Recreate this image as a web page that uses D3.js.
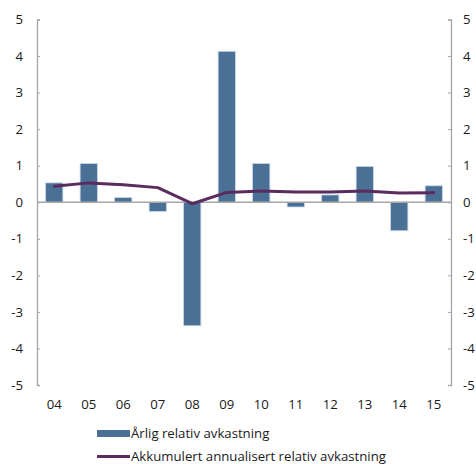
<!DOCTYPE html>
<html>
<head>
<meta charset="utf-8">
<script src="https://cdn.jsdelivr.net/npm/d3@7"></script>
<style>
  html, body { margin: 0; padding: 0; background: #fff; }
  svg { display: block; font-family: "Open Sans", "Noto Sans", sans-serif; }
</style>
</head>
<body>
<svg id="chart" width="476" height="464"></svg>
<script>
// Years (two-digit labels) and the two series, in percentage points
const years = ["04", "05", "06", "07", "08", "09", "10", "11", "12", "13", "14", "15"];
const annualRelative = [0.53, 1.06, 0.13, -0.25, -3.38, 4.13, 1.06, -0.13, 0.20, 0.98, -0.78, 0.45];
const cumulativeAnnualised = [0.44, 0.53, 0.48, 0.40, -0.04, 0.27, 0.31, 0.28, 0.28, 0.31, 0.25, 0.26];
const yTicks = [-5, -4, -3, -2, -1, 0, 1, 2, 3, 4, 5];
const legendLabels = ["Årlig relativ avkastning", "Akkumulert annualisert relativ avkastning"];

const barColor = "#4a7096";
const lineColor = "#5a2b5e";
const axisColor = "#a6a6a6";
const textColor = "#1a1a1a";
const fontSize = 13.2;

const svg = d3.select("#chart");
const plotLeft = 37, plotRight = 451, plotTop = 19.5, plotBottom = 385;

const x = d3.scaleBand().domain(years).range([plotLeft, plotRight]).paddingInner(0.5).paddingOuter(0.25);
const y = d3.scaleLinear().domain([-5, 5]).range([plotBottom, plotTop]);

// Left and right value axes, ticks pointing into the plot
const yLeft = svg.append("g").attr("transform", `translate(${plotLeft},0)`)
  .call(d3.axisRight(y).tickValues(yTicks).tickSize(3).tickFormat(""));
const yRight = svg.append("g").attr("transform", `translate(${plotRight},0)`)
  .call(d3.axisLeft(y).tickValues(yTicks).tickSize(3).tickFormat(""));
[yLeft, yRight].forEach(g => {
  g.select(".domain").attr("stroke", axisColor).attr("stroke-width", 1.3);
  g.selectAll(".tick line").attr("stroke", axisColor);
});

svg.append("g").selectAll("text").data(yTicks).join("text")
  .attr("x", 23).attr("y", d => y(d)).attr("dy", "0.35em")
  .attr("text-anchor", "end").attr("font-size", fontSize).attr("fill", textColor)
  .text(d => d);
svg.append("g").selectAll("text").data(yTicks).join("text")
  .attr("x", 463).attr("y", d => y(d)).attr("dy", "0.35em")
  .attr("text-anchor", "start").attr("font-size", fontSize).attr("fill", textColor)
  .text(d => d);

// Bars
svg.append("g").selectAll("rect").data(annualRelative).join("rect")
  .attr("x", (d, i) => x(years[i]))
  .attr("width", x.bandwidth())
  .attr("y", d => y(Math.max(0, d)))
  .attr("height", d => Math.abs(y(d) - y(0)))
  .attr("fill", barColor)
  .attr("stroke", "#c9d8e6").attr("stroke-width", 0.8);

// Zero line
svg.append("line")
  .attr("x1", plotLeft).attr("x2", plotRight).attr("y1", y(0)).attr("y2", y(0))
  .attr("stroke", axisColor).attr("stroke-width", 1.3);

// Cumulative annualised line
const line = d3.line()
  .x((d, i) => x(years[i]) + x.bandwidth() / 2)
  .y(d => y(d));
svg.append("path").datum(cumulativeAnnualised)
  .attr("d", line)
  .attr("fill", "none").attr("stroke", lineColor)
  .attr("stroke-width", 3).attr("stroke-linejoin", "round").attr("stroke-linecap", "round");

// Category labels
svg.append("g").selectAll("text").data(years).join("text")
  .attr("x", d => x(d) + x.bandwidth() / 2).attr("y", 404).attr("dy", "0.35em")
  .attr("text-anchor", "middle").attr("font-size", fontSize).attr("fill", textColor)
  .text(d => d);

// Legend
const legend = svg.append("g");
legend.append("rect").attr("x", 97).attr("y", 430).attr("width", 33).attr("height", 7).attr("fill", barColor);
legend.append("line").attr("x1", 97).attr("x2", 130).attr("y1", 456.5).attr("y2", 456.5)
  .attr("stroke", lineColor).attr("stroke-width", 3);
legend.selectAll("text").data(legendLabels).join("text")
  .attr("x", 131).attr("y", (d, i) => 433.5 + i * 23).attr("dy", "0.35em")
  .attr("font-size", fontSize).attr("fill", textColor)
  .text(d => d);
</script>
</body>
</html>
